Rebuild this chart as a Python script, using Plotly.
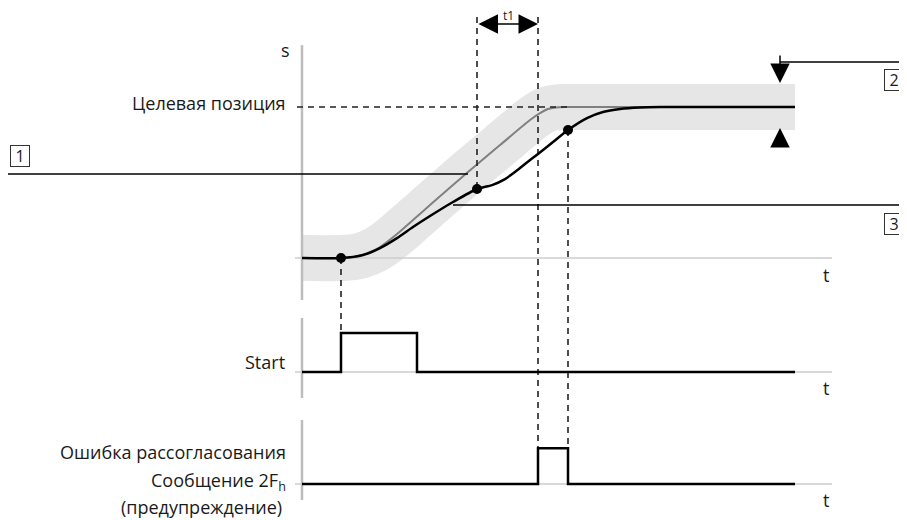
import plotly.graph_objects as go

# ---------------- data (time in arbitrary units, s in % of target position) ----
t_target = [0, 3.9, 5.3, 6.6, 7.8, 9.5, 11.1, 12.8, 16.6, 19.8, 22.8, 23.8, 24.6, 25.4, 26.3, 49.3]
s_target = [0, 0, 0.7, 3.3, 7.3, 15.9, 25.2, 35.1, 57.0, 74.8, 91.4, 96.0, 98.7, 99.7, 100, 100]

t_actual = [0, 3.9, 6.1, 7.8, 9.5, 11.1, 12.8, 15.1, 17.5, 19.0, 20.3, 21.3, 22.3, 23.6, 25.1,
            26.6, 28.5, 30.1, 31.8, 33.8, 35.8, 49.3]
s_actual = [0, 0, 2.0, 6.6, 13.2, 20.5, 27.8, 37.1, 45.7, 48.3, 52.3, 57.0, 62.3, 68.9, 76.8,
            84.8, 92.7, 96.7, 98.7, 99.7, 100, 100]

t_marks = [3.9, 17.5, 26.6]
s_marks = [0, 45.7, 84.8]

start_t = [0, 3.9, 3.9, 11.5, 11.5, 49.3]
start_lvl = [0, 0, 1, 1, 0, 0]
err_t = [0, 23.6, 23.6, 26.6, 26.6, 49.3]
err_lvl = [0, 0, 1, 1, 0, 0]

target_s = 100
t1_bounds = [17.5, 23.6]

# ---------------- layout constants ----------------
X_RANGE = [-29.4, 60.5]
Y_RANGE = [-173.5, 165.6]
START_BASE, START_AMP = -75.5, 25.8
ERR_BASE, ERR_AMP = -149.7, 23.8
FONT = "Open Sans"
FS = 18

start_y = [START_BASE + v * START_AMP for v in start_lvl]
err_y = [ERR_BASE + v * ERR_AMP for v in err_lvl]
start_hi = START_BASE + START_AMP
err_hi = ERR_BASE + ERR_AMP

fig = go.Figure()


def line(xs, ys, color="black", width=1.5, dash=None, shape="linear"):
    fig.add_trace(go.Scatter(x=xs, y=ys, mode="lines", hoverinfo="skip", showlegend=False,
                             line=dict(color=color, width=width, dash=dash, shape=shape,
                                       smoothing=0.7)))


# tolerance band
line(t_target, s_target, color="#e6e6e6", width=46, shape="spline")

# axes
AX = "#bdbdbd"
line([0, 0], [141, -27.8], AX, 2.5)
line([0, 0], [-39.7, -92.7], AX, 2.5)
line([0, 0], [-107.3, -160.3], AX, 2.5)
BL = "#cccccc"
for b in (0, START_BASE, ERR_BASE):
    line([-0.7, 53.0], [b, b], BL, 1.5)

# target trajectory
line(t_target, s_target, "#808080", 2, shape="spline")

# dashed guides
D = "#222222"
DS = "6px,5px"
line([-0.5, 26.8], [target_s, target_s], D, 1.6, DS)
line([t1_bounds[0]] * 2, [159.6, s_marks[1]], D, 1.6, DS)
line([t1_bounds[1]] * 2, [159.6, err_hi], D, 1.6, DS)
line([t_marks[0]] * 2, [s_marks[0], start_hi], D, 1.6, DS)
line([t_marks[2]] * 2, [s_marks[2], err_hi], D, 1.6, DS)

# actual position
line(t_actual, s_actual, "black", 2.5, shape="spline")

# signals
line(start_t, start_y, "black", 2.5)
line(err_t, err_y, "black", 2.5)

# callout lines
line([-29.4, 16.6], [55.6, 55.6], "black", 1.5)
line([15.1, 60.5], [35.1, 35.1], "black", 1.5)
line([47.8, 60.5], [129.8, 129.8], "black", 1.5)

# markers
fig.add_trace(go.Scatter(x=t_marks, y=s_marks, mode="markers", hoverinfo="skip", showlegend=False,
                         marker=dict(color="black", size=10)))

ann = []


def arrow(x, y, ax, ay, side="end"):
    ann.append(dict(x=x, y=y, ax=ax, ay=ay, xref="x", yref="y", axref="x", ayref="y",
                    text="", showarrow=True, arrowhead=2, arrowsize=2.6, arrowwidth=1.5,
                    arrowcolor="black", arrowside=side, standoff=0, startstandoff=0))


arrow(t1_bounds[1], 155, t1_bounds[0], 155, "end+start")
arrow(47.8, 115.9, 47.8, 135.1)
arrow(47.8, 86.1, 47.8, 74.8)


def text(x, y, s, xanchor="right", size=FS):
    ann.append(dict(x=x, y=y, xref="x", yref="y", text=s, showarrow=False, xanchor=xanchor,
                    yanchor="middle", font=dict(family=FONT, size=size, color="#1a1a1a")))


text(-1.0, 137.7, "s")
text(-1.4, 102.6, "Целевая позиция")
text(-1.5, -68.9, "Start")
text(-1.4, -128.5, "Ошибка рассогласования")
text(-1.4, -147.7, "Сообщение 2F<sub>h</sub>")
text(-1.8, -164.6, "(предупреждение)")
for yy in (-11.3, -86.1, -160.3):
    text(52.4, yy, "t", xanchor="center")
text(20.6, 160.6, "t1", xanchor="center", size=12)


def box(x, y, s):
    ann.append(dict(x=x, y=y, xref="x", yref="y", text=s, showarrow=False, xanchor="center",
                    yanchor="middle", width=16, height=18, borderpad=1, borderwidth=1,
                    bordercolor="#333333", bgcolor="white",
                    font=dict(family=FONT, size=16, color="#1a1a1a")))


box(-28.2, 67.9, "1")
box(59.2, 117.9, "2")
box(59.2, 22.8, "3")

fig.update_layout(
    width=899, height=512, margin=dict(l=0, r=0, t=0, b=0),
    paper_bgcolor="white", plot_bgcolor="white",
    xaxis=dict(range=X_RANGE, visible=False, fixedrange=True),
    yaxis=dict(range=Y_RANGE, visible=False, fixedrange=True),
    annotations=ann, showlegend=False,
)

fig.write_html("out.html")
